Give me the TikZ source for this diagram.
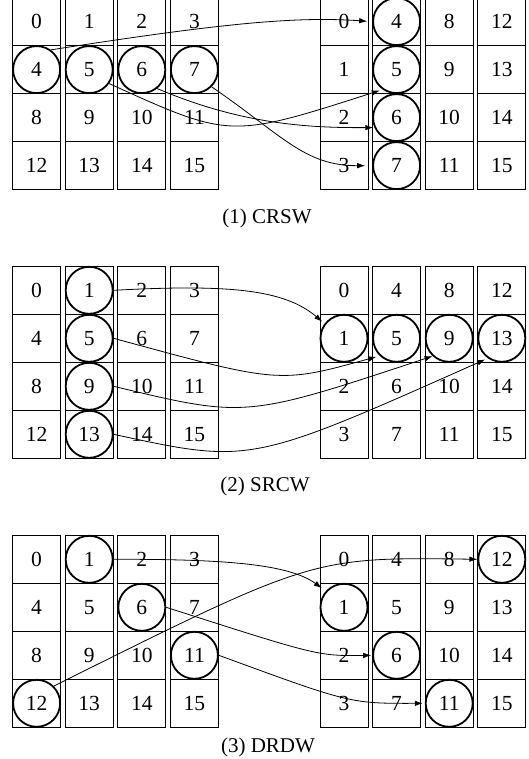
\documentclass[tikz,border=0pt]{standalone}
\usepackage{fontspec}
\setmainfont{Liberation Serif}
\usetikzlibrary{arrows.meta}
\begin{document}
\begin{tikzpicture}[x=1pt,y=-1pt,
  cell/.style={draw, line width=0.9pt, minimum size=48pt, inner sep=0pt, font=\fontsize{21.5}{22}\selectfont},
  ring/.style={draw, circle, line width=1.8pt, minimum size=47pt, inner sep=0pt},
  conn/.style={line width=0.8pt, -{Latex[length=8pt,width=5.5pt]}},
  captext/.style={font=\fontsize{21}{24}\selectfont, inner sep=0pt}]
\useasboundingbox (0,0) rectangle (529,759);
% grids
\foreach \p/\yt in {1/-2.4, 2/266.3, 3/535.3} {
  \foreach \r in {0,...,3} {
    \foreach \c in {0,...,3} {
      \pgfmathtruncatemacro\nl{4*\r+\c}
      \pgfmathtruncatemacro\nr{\r+4*\c}
      \node[cell] (L\p-\nl) at ({36.6+52.6*\c}, {\yt+24+48*\r}) {\nl};
      \node[cell] (R\p-\nr) at ({344+52.6*\c}, {\yt+24+48*\r}) {\nr};
    }
  }
}
% rings
\foreach \p/\n in {1/4,1/5,1/6,1/7,2/1,2/5,2/9,2/13,3/1,3/6,3/11,3/12} {
  \node[ring] (cL\p-\n) at (L\p-\n) {};
}
\foreach \p/\n in {1/4,1/5,1/6,1/7,2/1,2/5,2/9,2/13,3/1,3/6,3/11,3/12} {
  \node[ring] (cR\p-\n) at (R\p-\n) {};
}
% panel 1 connectors
\draw[conn, shorten >=5pt] (cL1-4.54) .. controls +(179,-28) and +(-73,-5) .. (cR1-4.west);
\draw[conn, shorten >=3pt] (cL1-5.-35) .. controls +(121,55) and +(-153,49) .. (cR1-5.235);
\draw[conn, shorten >=1pt] (cL1-6.-51) .. controls +(80,34) and +(-72,0.6) .. (cR1-6.204);
\draw[conn, shorten >=7pt] (cL1-7.-45) .. controls +(70.6,48.4) and +(-67.6,0.4) .. (cR1-7.west);
% panel 2 connectors
\draw[conn, shorten >=3pt] (cL2-1.east) .. controls +(116.8,-6.3) and +(-39.8,-33.9) .. (cR2-1.143);
\draw[conn, shorten >=3.5pt] (cL2-5.east) .. controls +(165.8,45.2) and +(-100.9,27.9) .. (cR2-5.226);
\draw[conn] (cL2-9.east) .. controls +(132.2,31.7) and +(-187.4,62.1) .. (cR2-9.227);
\draw[conn, shorten >=3pt] (cL2-13.east) .. controls +(136.8,29.7) and +(-238,106) .. (cR2-13.235);
% panel 3 connectors
\draw[conn, shorten >=5pt] (cL3-1.east) .. controls +(116.8,-0.3) and +(-36.2,-26.2) .. (cR3-1.138);
\draw[conn] (cL3-12.45) .. controls +(259.4,-129.3) and +(-164.8,-2.3) .. (cR3-12.west);
\draw[conn, shorten >=1pt] (cL3-6.east) .. controls +(152.2,48.7) and +(-54.6,0.7) .. (cR3-6.west);
\draw[conn, shorten >=2pt] (cL3-11.east) .. controls +(131.6,48.2) and +(-75.2,0.2) .. (cR3-11.west);
% captions
\node[captext] (cap1) at (267,218) {(1) CRSW};
\node[captext] (cap2) at (265,486.5) {(2) SRCW};
\node[captext] (cap3) at (268,747) {(3) DRDW};
\end{tikzpicture}
\end{document}
